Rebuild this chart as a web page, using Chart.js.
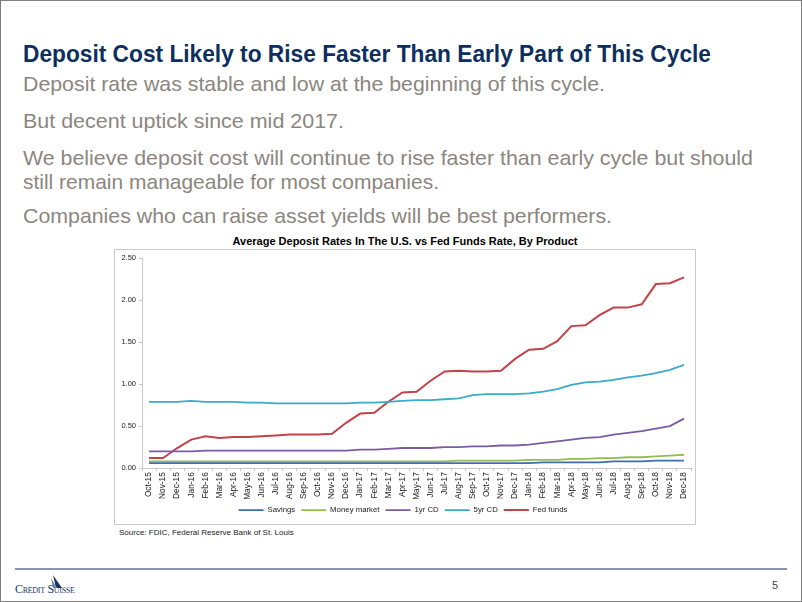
<!DOCTYPE html>
<html>
<head>
<meta charset="utf-8">
<script src="https://cdn.jsdelivr.net/npm/chart.js@4.4.0/dist/chart.umd.min.js"></script>
<style>
    body { margin: 0; background: #fff; font-family: "Liberation Sans", Arial, sans-serif; }
    #slide { position: relative; width: 802px; height: 602px; box-sizing: border-box; border: 1px solid #7f7f7f; overflow: hidden; }
    .txt { position: absolute; left: 22px; white-space: nowrap; transform-origin: 0 50%; line-height: 24px; height: 24px; }
    .head { color: #0d2f5f; font-weight: bold; font-size: 23px; }
    .body { color: #8c8680; font-size: 21px; }
    #chart-title { position: absolute; left: 113px; width: 582px; top: 234px; text-align: center; font-size: 11px; font-weight: bold; color: #000; }
    #chart-box { position: absolute; left: 113px; top: 248px; width: 582px; height: 276px; box-sizing: border-box; border: 1px solid #c9c9c9; }
    #chart-box canvas { position: absolute; left: 0; top: 0; }
    #source { position: absolute; left: 118px; top: 527px; font-size: 8px; color: #222; }
    #footer-line { position: absolute; left: 14px; top: 567px; width: 772px; height: 2px; background: #8596aa; }
    #logo { position: absolute; left: 14px; top: 581px; font-family: "Liberation Serif", serif; font-size: 12px; color: #1b3768; font-variant: small-caps; letter-spacing: -0.3px; }
    #logo-sail { position: absolute; left: 50px; top: 574px; }
    #page-num { position: absolute; left: 771px; top: 578px; font-size: 11px; color: #444; }
</style>
</head>
<body>
<div id="slide">
    <div class="txt head" data-w="688" style="top:41px">Deposit Cost Likely to Rise Faster Than Early Part of This Cycle</div>
    <div class="txt body" data-w="582" style="top:71px">Deposit rate was stable and low at the beginning of this cycle.</div>
    <div class="txt body" data-w="321" style="top:108px">But decent uptick since mid 2017.</div>
    <div class="txt body" data-w="730" style="top:145px">We believe deposit cost will continue to rise faster than early cycle but should</div>
    <div class="txt body" data-w="416" style="top:169px">still remain manageable for most companies.</div>
    <div class="txt body" data-w="589" style="top:203px">Companies who can raise asset yields will be best performers.</div>

    <div id="chart-title">Average Deposit Rates In The U.S. vs Fed Funds Rate, By Product</div>
    <div id="chart-box"><canvas id="rates-chart" width="580" height="274"></canvas></div>
    <div id="source">Source: FDIC, Federal Reserve Bank of St. Louis</div>

    <div id="footer-line"></div>
    <div id="logo">Credit Suisse</div>
    <svg id="logo-sail" width="12" height="15" viewBox="0 0 12 15">
        <polygon points="2,0 11,13 5,13" fill="#1b3768"/>
        <polygon points="0,3 6,13 2,13" fill="#6f86a8"/>
    </svg>
    <div id="page-num">5</div>
</div>

<script>
// Datos del gráfico
var months = ['Oct-15', 'Nov-15', 'Dec-15',
    'Jan-16', 'Feb-16', 'Mar-16', 'Apr-16', 'May-16', 'Jun-16', 'Jul-16', 'Aug-16', 'Sep-16', 'Oct-16', 'Nov-16', 'Dec-16',
    'Jan-17', 'Feb-17', 'Mar-17', 'Apr-17', 'May-17', 'Jun-17', 'Jul-17', 'Aug-17', 'Sep-17', 'Oct-17', 'Nov-17', 'Dec-17',
    'Jan-18', 'Feb-18', 'Mar-18', 'Apr-18', 'May-18', 'Jun-18', 'Jul-18', 'Aug-18', 'Sep-18', 'Oct-18', 'Nov-18', 'Dec-18'];

var savings = [0.06, 0.06, 0.06,
    0.06, 0.06, 0.06, 0.06, 0.06, 0.06, 0.06, 0.06, 0.06, 0.06, 0.06, 0.06,
    0.06, 0.06, 0.06, 0.06, 0.06, 0.06, 0.06, 0.06, 0.06, 0.06, 0.06, 0.06,
    0.06, 0.07, 0.07, 0.07, 0.07, 0.07, 0.08, 0.08, 0.08, 0.09, 0.09, 0.09];

var moneyMarket = [0.08, 0.08, 0.08,
    0.08, 0.08, 0.08, 0.08, 0.08, 0.08, 0.08, 0.08, 0.08, 0.08, 0.08, 0.08,
    0.08, 0.08, 0.08, 0.08, 0.08, 0.08, 0.08, 0.09, 0.09, 0.09, 0.09, 0.09,
    0.10, 0.10, 0.10, 0.11, 0.11, 0.12, 0.12, 0.13, 0.13, 0.14, 0.15, 0.16];

var oneYrCD = [0.20, 0.20, 0.20,
    0.20, 0.21, 0.21, 0.21, 0.21, 0.21, 0.21, 0.21, 0.21, 0.21, 0.21, 0.21,
    0.22, 0.22, 0.23, 0.24, 0.24, 0.24, 0.25, 0.25, 0.26, 0.26, 0.27, 0.27,
    0.28, 0.30, 0.32, 0.34, 0.36, 0.37, 0.40, 0.42, 0.44, 0.47, 0.50, 0.59];

var fiveYrCD = [0.79, 0.79, 0.79,
    0.80, 0.79, 0.79, 0.79, 0.78, 0.78, 0.77, 0.77, 0.77, 0.77, 0.77, 0.77,
    0.78, 0.78, 0.79, 0.80, 0.81, 0.81, 0.82, 0.83, 0.87, 0.88, 0.88, 0.88,
    0.89, 0.91, 0.94, 0.99, 1.02, 1.03, 1.05, 1.08, 1.10, 1.13, 1.17, 1.23];

var fedFunds = [0.12, 0.12, 0.24,
    0.34, 0.38, 0.36, 0.37, 0.37, 0.38, 0.39, 0.40, 0.40, 0.40, 0.41, 0.54,
    0.65, 0.66, 0.79, 0.90, 0.91, 1.04, 1.15, 1.16, 1.15, 1.15, 1.16, 1.30,
    1.41, 1.42, 1.51, 1.69, 1.70, 1.82, 1.91, 1.91, 1.95, 2.19, 2.20, 2.27];

var seriesNames = ['Savings', 'Money market', '1yr CD', '5yr CD', 'Fed funds'];
var seriesColors = ['#3e6db3', '#94bd50', '#7a5ca3', '#3aacc6', '#c2434a'];

// Ajustar el ancho de los textos de la diapositiva
document.querySelectorAll('.txt').forEach(function(el) {
    var target = parseFloat(el.getAttribute('data-w'));
    var w = el.getBoundingClientRect().width;
    if (w > 0) el.style.transform = 'scaleX(' + (target / w) + ')';
});

function makeDataset(i, values) {
    return {
        label: seriesNames[i],
        data: values,
        borderColor: seriesColors[i],
        backgroundColor: seriesColors[i],
        borderWidth: i === 4 ? 2 : 1.8,
        pointRadius: 0,
        pointStyle: 'line',
        tension: 0,
        fill: false
    };
}

var axisColor = '#c8c8c8';

var config = {
    type: 'line',
    data: {
        labels: months,
        datasets: [
            makeDataset(0, savings),
            makeDataset(1, moneyMarket),
            makeDataset(2, oneYrCD),
            makeDataset(3, fiveYrCD),
            makeDataset(4, fedFunds)
        ]
    },
    options: {
        responsive: false,
        animation: false,
        layout: { padding: { top: 8, right: 4, left: 0, bottom: 0 } },
        scales: {
            x: {
                offset: true,
                grid: { display: true, drawOnChartArea: false, offset: true, tickLength: 3, color: axisColor },
                border: { color: axisColor },
                ticks: {
                    autoSkip: false,
                    minRotation: 90,
                    maxRotation: 90,
                    padding: 1,
                    color: '#222',
                    font: { family: 'Liberation Sans', size: 8.3 }
                },
                afterFit: function(scale) { scale.height = 32; }
            },
            y: {
                min: 0,
                max: 2.5,
                grid: { display: true, drawOnChartArea: false, tickLength: 3, color: axisColor },
                border: { color: axisColor },
                ticks: {
                    stepSize: 0.5,
                    padding: 3,
                    color: '#222',
                    font: { family: 'Liberation Sans', size: 7.5 },
                    callback: function(v) { return v.toFixed(2); }
                },
                afterFit: function(scale) { scale.width = 27; }
            }
        },
        plugins: {
            legend: {
                position: 'bottom',
                labels: {
                    usePointStyle: true,
                    pointStyleWidth: 25,
                    padding: 6,
                    color: '#222',
                    font: { family: 'Liberation Sans', size: 7.8 }
                }
            },
            tooltip: { enabled: false }
        }
    }
};

var ratesChart = new Chart(document.getElementById('rates-chart'), config);
</script>
</body>
</html>
